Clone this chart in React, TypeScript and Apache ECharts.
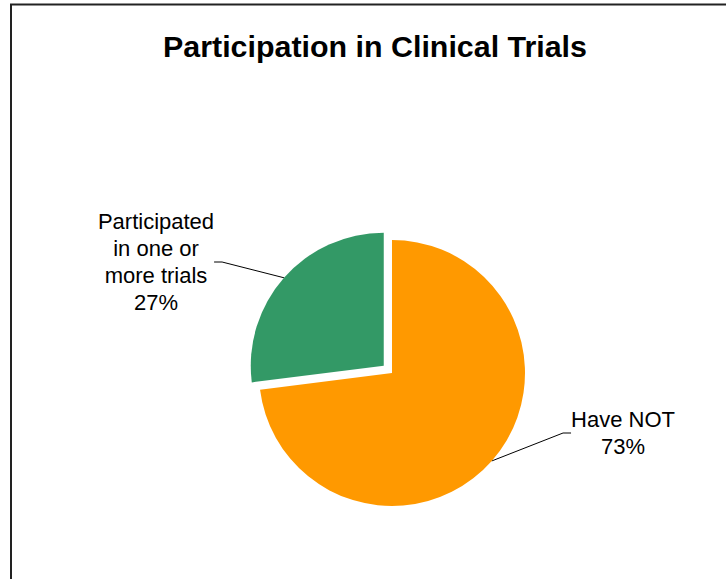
import React, { useEffect, useRef } from "react";
import * as echarts from "echarts";

const categories = ["Have NOT", "Participated\nin one or\nmore trials"];
const values = [73, 27];
const colors = ["#FF9900", "#339966"];
const explodedIndex = 1;

export default function App() {
  const ref = useRef<HTMLDivElement>(null);
  useEffect(() => {
    if (!ref.current) return;
    const chart = echarts.init(ref.current, null, { renderer: "svg" });
    const font = "'Liberation Sans', Arial, sans-serif";
    const labelPos = [
      { x: 623, y: 433 },
      { x: 156, y: 262 },
    ];
    const cx = 392;
    const cy = 373;
    const explode = 11;
    const total = values.reduce((a, b) => a + b, 0);
    const before = values.slice(0, explodedIndex).reduce((a, b) => a + b, 0);
    const midFrac = (before + values[explodedIndex] / 2) / total;
    const ang = midFrac * Math.PI * 2;
    const ex = cx + explode * Math.sin(ang);
    const ey = cy - explode * Math.cos(ang);

    const baseLabel = {
      show: true,
      formatter: "{b}\n{d}%",
      fontFamily: font,
      fontSize: 22,
      lineHeight: 27,
      color: "#000",
      align: "center",
    };
    const baseLine = {
      show: true,
      length: 15,
      length2: 8,
      lineStyle: { color: "#000", width: 1 },
    };
    const layout = (params: any) => {
      const p = labelPos[params.dataIndex];
      return { x: p.x, y: p.y, align: "center", verticalAlign: "middle" };
    };
    const makeSeries = (center: number[], visible: (i: number) => boolean) => ({
      type: "pie",
      center,
      radius: 133,
      startAngle: 90,
      clockwise: true,
      silent: true,
      emphasis: { disabled: true },
      itemStyle: { borderWidth: 0 },
      label: baseLabel,
      labelLine: baseLine,
      labelLayout: layout,
      data: categories.map((c, i) => ({
        name: c,
        value: values[i],
        itemStyle: visible(i)
          ? { color: colors[i] }
          : { color: "rgba(0,0,0,0)" },
        label: visible(i) ? {} : { show: false },
        labelLine: visible(i) ? {} : { show: false },
      })),
    });

    chart.setOption({
      animation: false,
      backgroundColor: "#ffffff",
      title: {
        text: "Participation in Clinical Trials",
        left: 370,
        top: 26,
        textAlign: "center",
        textStyle: { fontFamily: font, fontSize: 30.4, fontWeight: "bold", color: "#000" },
      },
      graphic: [
        {
          type: "rect",
          shape: { x: 11, y: 4.5, width: 900, height: 800 },
          style: { fill: "none", stroke: "#222", lineWidth: 2 },
          silent: true,
        },
      ],
      series: [
        makeSeries([cx, cy], (i) => i !== explodedIndex),
        makeSeries([ex, ey], (i) => i === explodedIndex),
      ],
    });
    return () => chart.dispose();
  }, []);
  return (
    <div
      ref={ref}
      style={{ position: "fixed", left: 0, top: 0, width: 726, height: 579 }}
    />
  );
}
